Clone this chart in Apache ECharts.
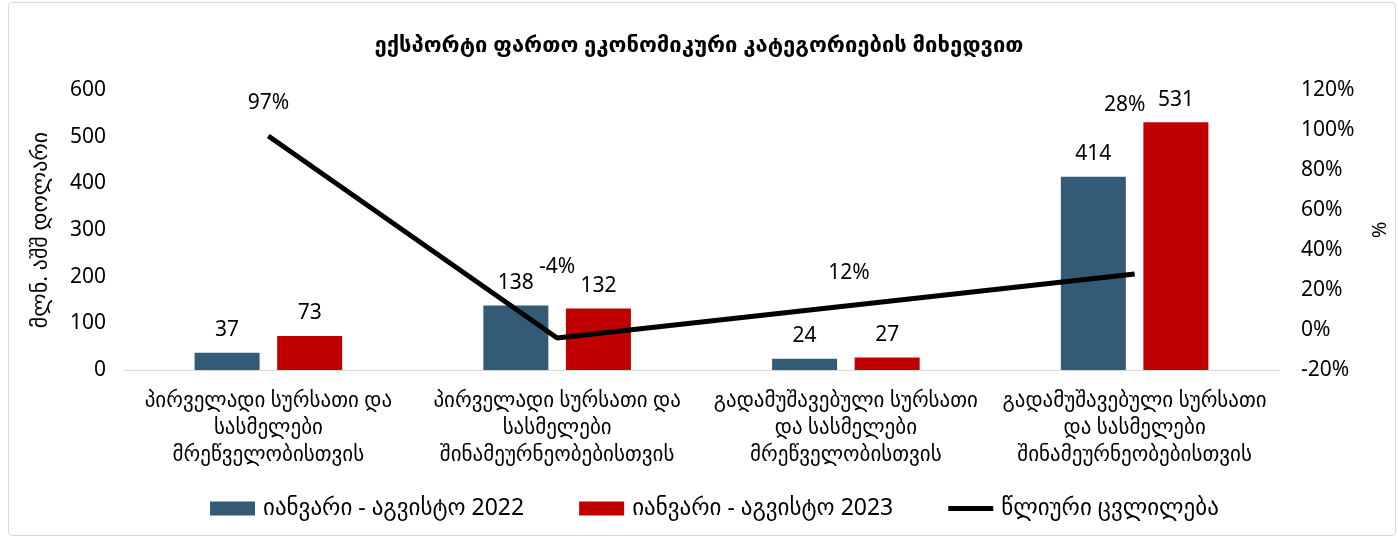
<!DOCTYPE html>
<html>
<head>
<meta charset="utf-8">
<script src="https://cdn.jsdelivr.net/npm/echarts@6/dist/echarts.min.js"></script>
<style>
  html, body { margin: 0; padding: 0; background: #fff; }
  #main { position: absolute; left: 0; top: 0; width: 1398px; height: 540px; }
  #frame { position: absolute; left: 8px; top: 2px; width: 1388px; height: 534px;
           border: 1px solid #d9d9d9; border-radius: 4px; box-sizing: border-box;
           pointer-events: none; }
</style>
</head>
<body>
<div id="main"></div>
<div id="frame"></div>
<script>
// კატეგორიები
var categories = [
    'პირველადი სურსათი და\nსასმელები\nმრეწველობისთვის',
    'პირველადი სურსათი და\nსასმელები\nშინამეურნეობებისთვის',
    'გადამუშავებული სურსათი\nდა სასმელები\nმრეწველობისთვის',
    'გადამუშავებული სურსათი\nდა სასმელები\nშინამეურნეობებისთვის'
];
var seriesNames = ['იანვარი - აგვისტო 2022', 'იანვარი - აგვისტო 2023', 'წლიური ცვლილება'];
var values2022 = [37, 138, 24, 414];
var values2023 = [73, 132, 27, 531];
var changePct = [97, -4, 12, 28];
// label offsets for the line labels (Excel moved some of them)
var lineLabelOffsets = [[0, 0], [0, -38], [3, 0], [-10, -136]];

var font = 'Noto Sans, DejaVu Sans, sans-serif';

var chart = echarts.init(document.getElementById('main'));

var option = {
    animation: false,
    title: {
        text: 'ექსპორტი ფართო ეკონომიკური კატეგორიების მიხედვით',
        left: 'center',
        top: 30,
        textStyle: {
            fontFamily: font,
            fontSize: 22,
            fontWeight: 'bold',
            color: '#000'
        }
    },
    legend: {
        bottom: 15,
        left: 205,
        itemWidth: 45,
        itemHeight: 14,
        itemGap: 55,
        textStyle: { fontFamily: font, fontSize: 23, color: '#000', padding: [0, 0, 0, 3] },
        data: [
            { name: seriesNames[0], icon: 'rect' },
            { name: seriesNames[1], icon: 'rect' },
            { name: seriesNames[2], icon: 'path://M0,0H45V5H0Z' }
        ]
    },
    grid: {
        left: 124,
        right: 112,
        top: 90,
        bottom: 170
    },
    xAxis: {
        type: 'category',
        data: categories,
        axisTick: { show: false },
        axisLine: { lineStyle: { color: '#d9d9d9', width: 1 } },
        axisLabel: {
            interval: 0,
            fontFamily: font,
            fontSize: 21,
            lineHeight: 27,
            color: '#000',
            margin: 18
        }
    },
    yAxis: [{
        type: 'value',
        min: 0,
        max: 600,
        interval: 100,
        name: 'მლნ. აშშ დოლარი',
        nameLocation: 'middle',
        nameGap: 72,
        nameRotate: 90,
        nameTextStyle: { fontFamily: font, fontSize: 22, color: '#000' },
        splitLine: { show: false },
        axisLabel: { fontFamily: font, fontSize: 21, color: '#000', margin: 18 }
    }, {
        type: 'value',
        min: -20,
        max: 120,
        interval: 20,
        name: '%',
        nameLocation: 'middle',
        nameGap: 91,
        nameRotate: 90,
        nameTextStyle: { fontFamily: font, fontSize: 20, color: '#000' },
        splitLine: { show: false },
        axisLabel: {
            fontFamily: font, fontSize: 21, color: '#000', margin: 22,
            formatter: '{value}%'
        }
    }],
    series: [{
        name: seriesNames[0],
        type: 'bar',
        data: values2022,
        barWidth: 65,
        barGap: '27%',
        itemStyle: { color: '#345B75' },
        label: {
            show: true, position: 'top', distance: 12,
            fontFamily: font, fontSize: 21, color: '#000'
        }
    }, {
        name: seriesNames[1],
        type: 'bar',
        data: values2023,
        barWidth: 65,
        itemStyle: { color: '#C00000' },
        label: {
            show: true, position: 'top', distance: 12,
            fontFamily: font, fontSize: 21, color: '#000'
        }
    }, {
        name: seriesNames[2],
        type: 'line',
        yAxisIndex: 1,
        data: changePct.map(function (v, i) {
            return { value: v, label: { offset: lineLabelOffsets[i] } };
        }),
        symbol: 'circle',
        symbolSize: 1,
        lineStyle: { color: '#000', width: 5 },
        itemStyle: { color: '#000' },
        label: {
            show: true, position: 'top', distance: 22,
            fontFamily: font, fontSize: 21, color: '#000',
            formatter: '{c}%'
        }
    }]
};

chart.setOption(option);
</script>
</body>
</html>
